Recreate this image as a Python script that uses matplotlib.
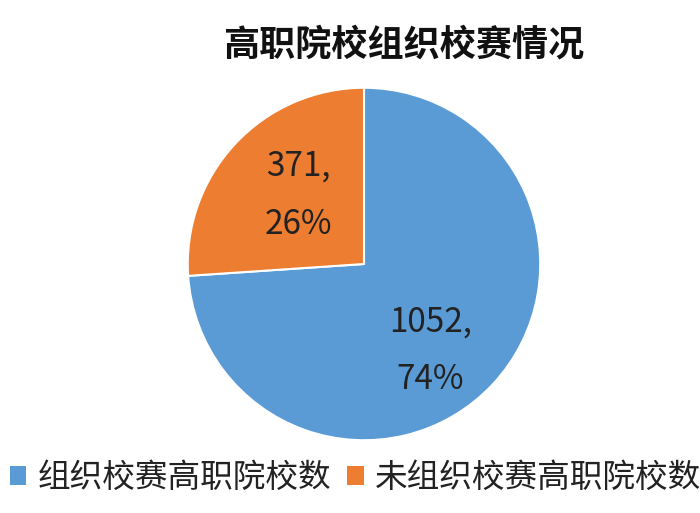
import numpy as np
import matplotlib.pyplot as plt
from matplotlib.patches import Patch

plt.rcParams['font.family'] = ['Noto Sans CJK SC', 'DejaVu Sans']

# === Data ===
title = "高职院校组织校赛情况"
categories = ["组织校赛高职院校数", "未组织校赛高职院校数"]
counts = [1052, 371]
percents = [74, 26]
colors = ["#5B9BD5", "#ED7D31"]

labels = [f"{c},\n{p}%" for c, p in zip(counts, percents)]

# label placement (distance from centre, angle nudge in degrees)
label_dist = [0.62, 0.54]
label_nudge = [-9.5, -3.0]

# === Figure ===
fig = plt.figure(figsize=(7.0, 5.13), dpi=100)
ax = fig.add_axes([186 / 700, 1 - 442 / 513, 356 / 700, 356 / 513])

wedges, _ = ax.pie(counts, colors=colors, startangle=90, counterclock=False, radius=1,
                   wedgeprops=dict(edgecolor='white', linewidth=1.5))

for w, lab, d, n in zip(wedges, labels, label_dist, label_nudge):
    ang = np.deg2rad((w.theta1 + w.theta2) / 2 + n)
    ax.text(d * np.cos(ang), d * np.sin(ang), lab, ha='center', va='center',
            multialignment='center', linespacing=1.85, fontsize=24, color='#222222')

ax.set_xlim(-1.01, 1.01)
ax.set_ylim(-1.01, 1.01)
ax.set_aspect('equal')
ax.axis('off')

fig.text(0.576, 0.913, title, ha='center', va='center', fontsize=26, fontweight='bold', color='#111111')

handles = [Patch(facecolor=c, edgecolor='none') for c in colors]
fig.legend(handles, categories, loc='center', bbox_to_anchor=(0.508, 0.068), ncol=2,
           frameon=False, fontsize=23.5, handlelength=0.5, handleheight=0.5,
           handletextpad=0.35, columnspacing=0.5, labelcolor='#222222')

fig.savefig("out.png", dpi=100, facecolor='white')
